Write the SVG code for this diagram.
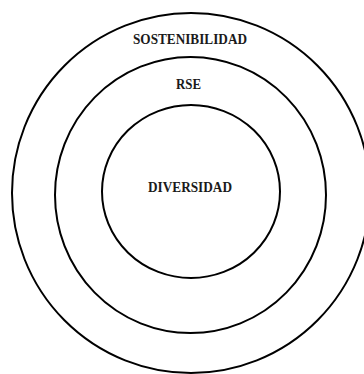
<svg xmlns="http://www.w3.org/2000/svg" width="364" height="374" viewBox="0 0 364 374">
<style>
.ring{fill:none;stroke:#000;stroke-width:2}
.lbl{font-family:"Liberation Serif","Times New Roman",serif;font-weight:bold;font-size:15.5px;fill:#1a1a1a;text-anchor:middle}
</style>
<rect width="364" height="374" fill="#fff"/>
<g id="sostenibilidad">
<ellipse class="ring" cx="191" cy="193" rx="179" ry="180"/>
<text class="lbl" x="190" y="43.5" textLength="114" lengthAdjust="spacingAndGlyphs">SOSTENIBILIDAD</text>
</g>
<g id="rse">
<ellipse class="ring" cx="190.5" cy="195" rx="135.5" ry="138"/>
<text class="lbl" x="188.5" y="89" textLength="25" lengthAdjust="spacingAndGlyphs">RSE</text>
</g>
<g id="diversidad">
<ellipse class="ring" cx="191" cy="191.5" rx="89" ry="86.5"/>
<text class="lbl" x="190" y="192" textLength="84" lengthAdjust="spacingAndGlyphs">DIVERSIDAD</text>
</g>
</svg>
